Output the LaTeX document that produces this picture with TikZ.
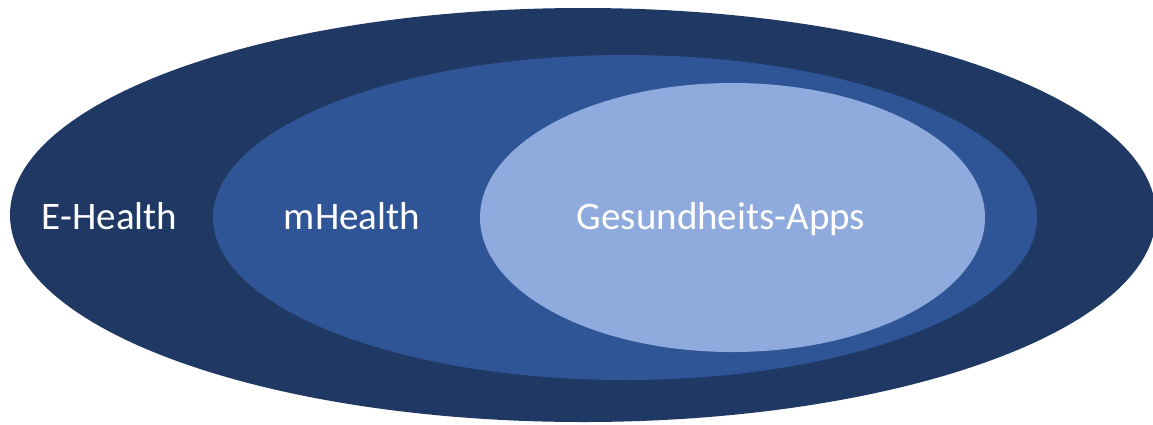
\documentclass[tikz,border=0pt]{standalone}
\usepackage{fontspec}
\setmainfont{Carlito}
\usepackage{tikz}
\usetikzlibrary{shapes}

\definecolor{darknavy}{HTML}{203864}
\definecolor{midblue}{HTML}{2F5597}
\definecolor{lightblue}{HTML}{8FAADC}

\begin{document}
\begin{tikzpicture}[x=1pt,y=-1pt,
    area/.style={ellipse, draw=none, inner sep=0pt},
    label/.style={text=white, anchor=base, inner sep=0pt,
        font=\fontsize{39}{46}\selectfont}]
    \useasboundingbox (0,0) rectangle (1153,424);
    % nested areas
    \node[area, fill=darknavy, minimum width=1146pt, minimum height=414pt] (ehealth) at (583,215) {};
    \node[area, fill=midblue, minimum width=824pt, minimum height=325pt] (mhealth) at (625,217.5) {};
    \node[area, fill=lightblue, minimum width=505pt, minimum height=269pt] (apps) at (732.5,217.5) {};
    % labels
    \node[label] (ehealthlabel) at (109.5,229) {E-Health};
    \node[label] (mhealthlabel) at (352,229) {mHealth};
    \node[label] (appslabel) at (721,229) {Gesundheits-Apps};
\end{tikzpicture}
\end{document}
